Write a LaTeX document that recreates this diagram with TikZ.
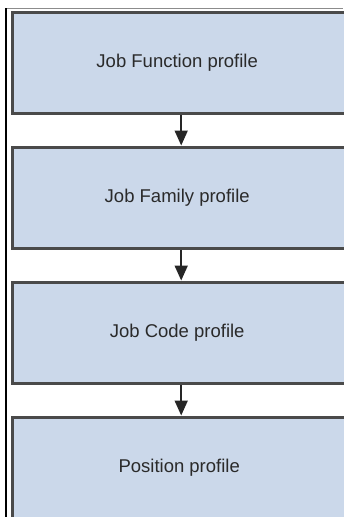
\documentclass[tikz,border=0pt]{standalone}
\usepackage{fontspec}
\setmainfont{Liberation Sans}
\usetikzlibrary{arrows.meta}
\definecolor{boxfill}{HTML}{CBD8EA}
\definecolor{boxedge}{HTML}{4A4A4A}
\definecolor{labeltext}{HTML}{2A2A2A}
\begin{document}
\begin{tikzpicture}[x=1pt,y=-1pt,
  profilebox/.style={draw=boxedge,line width=3.4pt,fill=boxfill,minimum width=338pt,minimum height=101pt,anchor=north west,font=\fontsize{18.5}{21}\selectfont,text=labeltext,inner sep=0pt},
  link/.style={line width=1.8pt,draw=black!85,-{Triangle[length=15pt,width=13pt]},shorten >=0pt}]
\useasboundingbox (0,0) rectangle (343,517);
\draw[line width=0.8pt,black!45] (6,8) -- (343,8);
\draw[line width=1.4pt,black] (6,8) -- (6,517);
\node[profilebox] (f) at (10.5,10.5) {Job Function profile\hspace*{8pt}};
\node[profilebox] (fa) at (10.5,145.5) {Job Family profile\hspace*{8pt}};
\node[profilebox] (c) at (10.5,280.5) {Job Code profile\hspace*{8pt}};
\node[profilebox] (p) at (10.5,415.5) {Position profile\hspace*{4pt}};
\draw[link] (f.south) -- (fa.north);
\draw[link] (fa.south) -- (c.north);
\draw[link] (c.south) -- (p.north);
\end{tikzpicture}
\end{document}
